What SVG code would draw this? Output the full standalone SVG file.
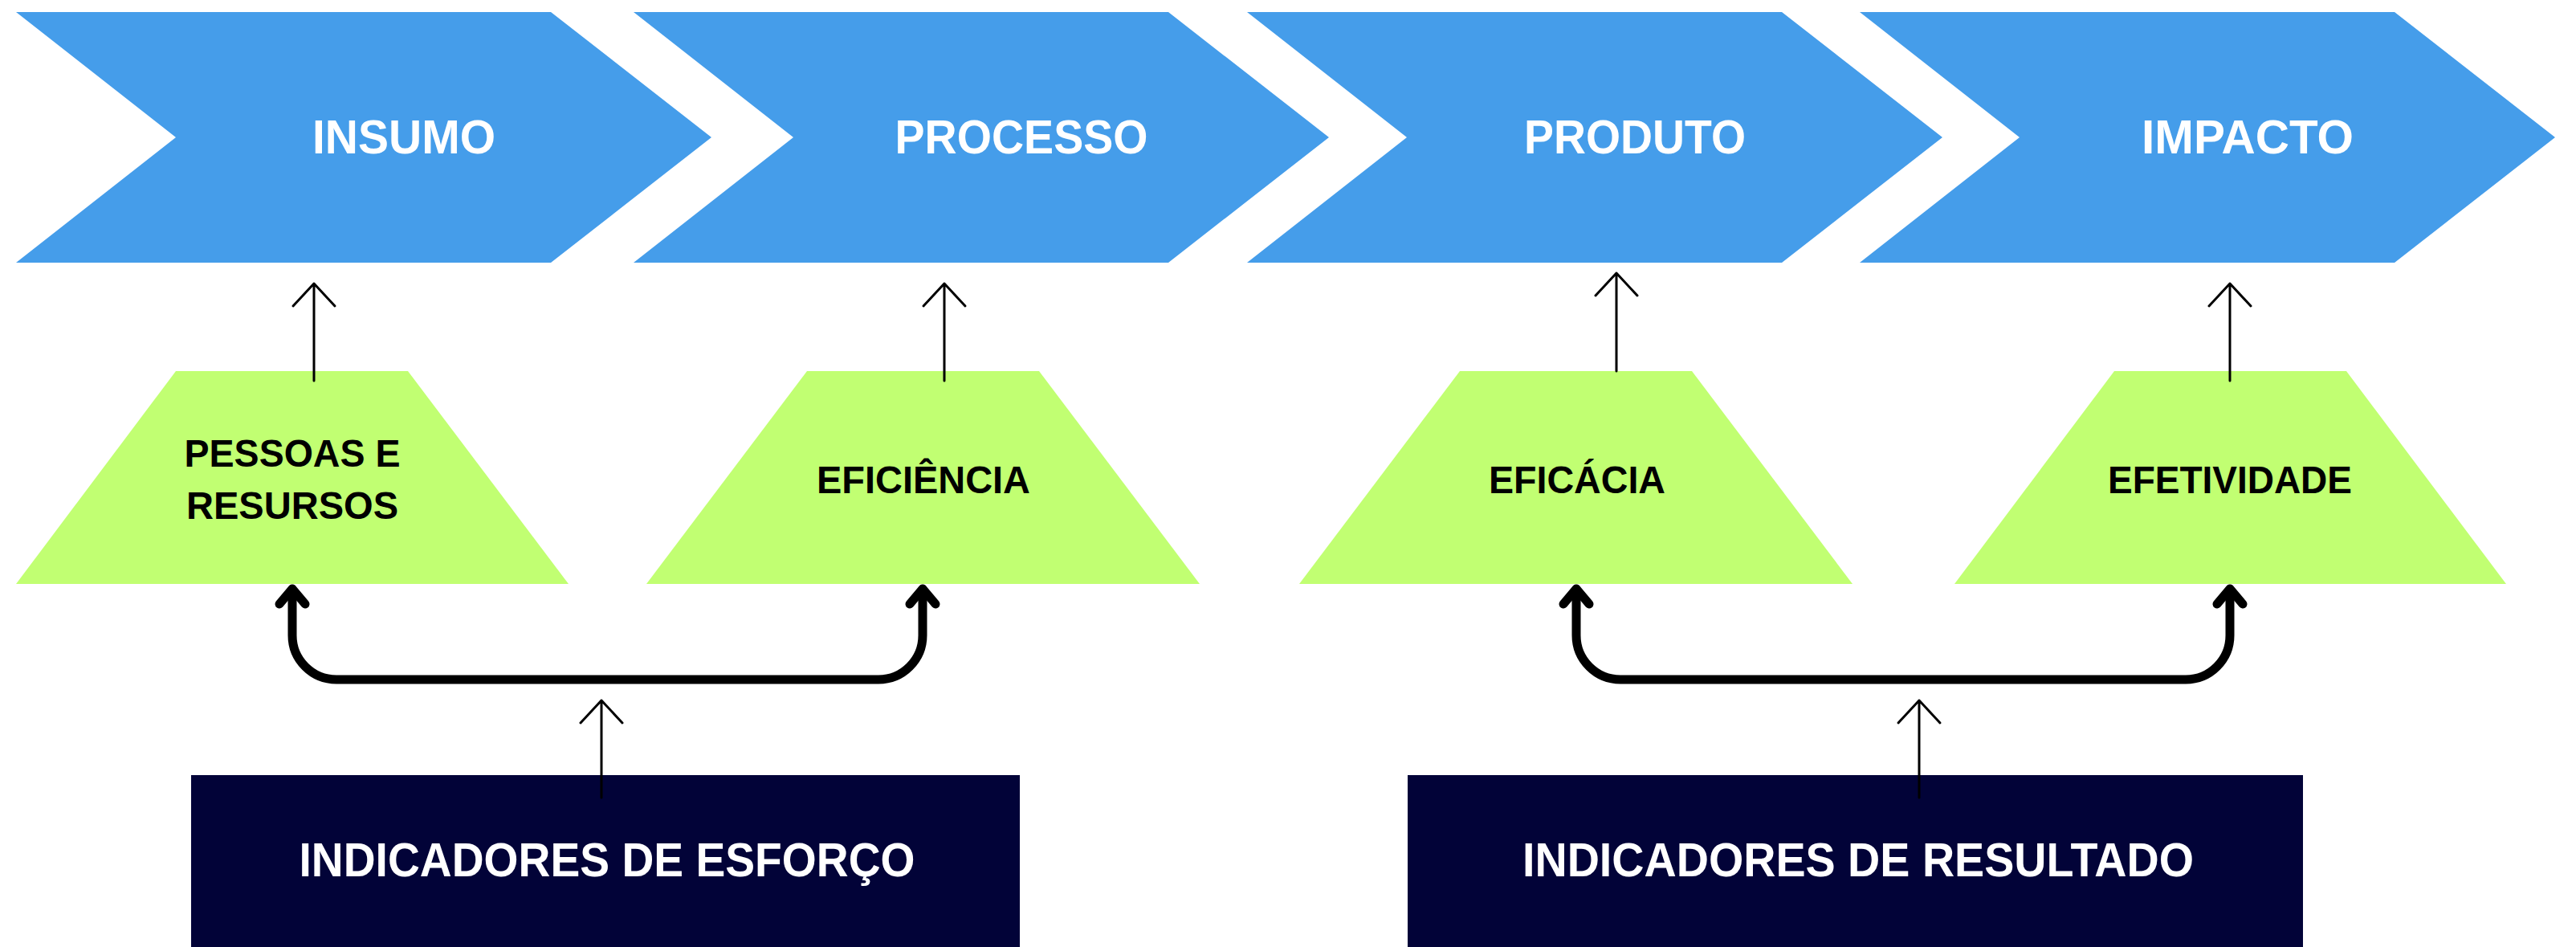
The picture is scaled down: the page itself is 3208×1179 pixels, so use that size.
<svg xmlns="http://www.w3.org/2000/svg" width="3208" height="1179" viewBox="0 0 3208 1179">
<style>
.chev{fill:#459DEA}
.trap{fill:#C1FF72}
.box{fill:#020338}
.ct{font-family:"Liberation Sans",Arial,sans-serif;font-weight:700;font-size:60px;fill:#FFFFFF;text-anchor:middle}
.tt{font-family:"Liberation Sans",Arial,sans-serif;font-weight:700;font-size:48px;fill:#000000;text-anchor:middle}
.bt{font-family:"Liberation Sans",Arial,sans-serif;font-weight:700;font-size:60px;fill:#FFFFFF;text-anchor:middle}
.thin{fill:none;stroke:#000;stroke-width:3;stroke-linecap:round;stroke-linejoin:round}
.thick{fill:none;stroke:#000;stroke-width:11;stroke-linecap:round;stroke-linejoin:round}
</style>
<rect width="3208" height="1179" fill="#FFFFFF"/>
<g id="insumo">
<polygon class="chev" points="20,15 686,15 886,171 686,327 20,327 219,171"/>
<text class="ct" x="503" y="191" textLength="228" lengthAdjust="spacingAndGlyphs">INSUMO</text>
</g>
<g id="processo">
<polygon class="chev" points="789,15 1455,15 1655,171 1455,327 789,327 988,171"/>
<text class="ct" x="1272" y="191" textLength="315" lengthAdjust="spacingAndGlyphs">PROCESSO</text>
</g>
<g id="produto">
<polygon class="chev" points="1553,15 2219,15 2419,171 2219,327 1553,327 1752,171"/>
<text class="ct" x="2036" y="191" textLength="276" lengthAdjust="spacingAndGlyphs">PRODUTO</text>
</g>
<g id="impacto">
<polygon class="chev" points="2316,15 2982,15 3182,171 2982,327 2316,327 2515,171"/>
<text class="ct" x="2799" y="191" textLength="264" lengthAdjust="spacingAndGlyphs">IMPACTO</text>
</g>
<g id="pessoas">
<polygon class="trap" points="219,462 508,462 708,727 20,727"/>
<text class="tt" x="364" y="581" textLength="269" lengthAdjust="spacingAndGlyphs">PESSOAS E</text>
<text class="tt" x="364" y="646" textLength="264" lengthAdjust="spacingAndGlyphs">RESURSOS</text>
</g>
<g id="eficiencia">
<polygon class="trap" points="1005,462 1294,462 1494,727 805,727"/>
<text class="tt" x="1150" y="614" textLength="266" lengthAdjust="spacingAndGlyphs">EFICIÊNCIA</text>
</g>
<g id="eficacia">
<polygon class="trap" points="1818,462 2107,462 2307,727 1618,727"/>
<text class="tt" x="1964" y="614" textLength="220" lengthAdjust="spacingAndGlyphs">EFICÁCIA</text>
</g>
<g id="efetividade">
<polygon class="trap" points="2633,462 2922,462 3121,727 2434,727"/>
<text class="tt" x="2777" y="614" textLength="304" lengthAdjust="spacingAndGlyphs">EFETIVIDADE</text>
</g>
<g id="esforco">
<rect class="box" x="238" y="965" width="1032" height="214"/>
<text class="bt" x="756" y="1091" textLength="767" lengthAdjust="spacingAndGlyphs">INDICADORES DE ESFORÇO</text>
</g>
<g id="resultado">
<rect class="box" x="1753" y="965" width="1115" height="214"/>
<text class="bt" x="2314" y="1091" textLength="836" lengthAdjust="spacingAndGlyphs">INDICADORES DE RESULTADO</text>
</g>
<g id="connectors">
<path class="thin" d="M391,474 V353 M365,381 L391,353 L417,381"/>
<path class="thin" d="M1176,474 V353 M1150,381 L1176,353 L1202,381"/>
<path class="thin" d="M2013,462 V340 M1987,368 L2013,340 L2039,368"/>
<path class="thin" d="M2777,474 V353 M2751,381 L2777,353 L2803,381"/>
<path class="thin" d="M749,993 V872 M723,900 L749,872 L775,900"/>
<path class="thin" d="M2390,993 V872 M2364,900 L2390,872 L2416,900"/>
<path class="thick" d="M364,734 V791 A55,55 0 0 0 419,846 H1094 A55,55 0 0 0 1149,791 V734"/>
<path class="thick" d="M348,752 L364,733 L380,752 M1133,752 L1149,733 L1165,752"/>
<path class="thick" d="M1963,734 V791 A55,55 0 0 0 2018,846 H2722 A55,55 0 0 0 2777,791 V734"/>
<path class="thick" d="M1947,752 L1963,733 L1979,752 M2761,752 L2777,733 L2793,752"/>
</g>
</svg>
